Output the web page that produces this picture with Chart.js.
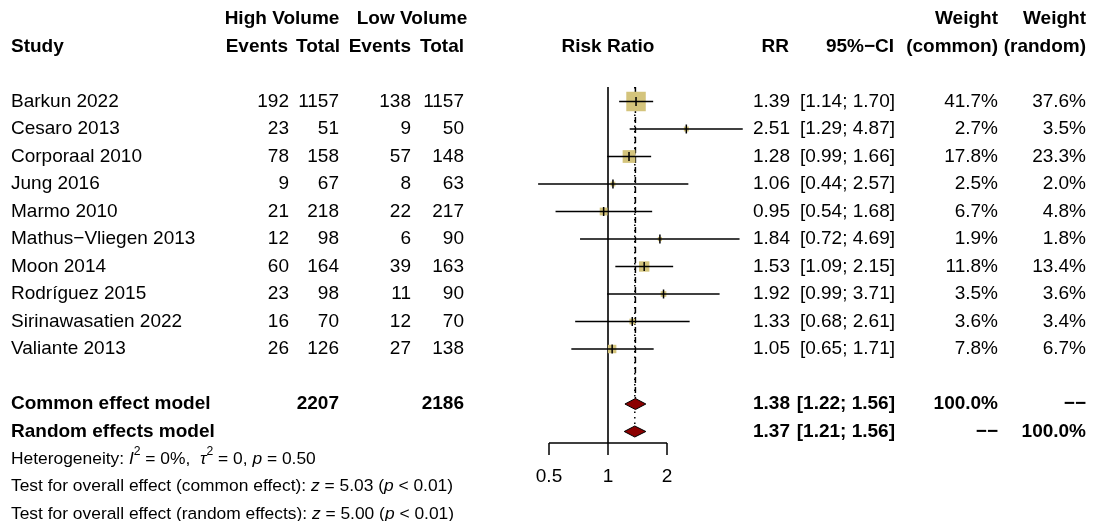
<!DOCTYPE html>
<html>
<head>
<meta charset="utf-8">
<script src="https://cdn.jsdelivr.net/npm/chart.js@4/dist/chart.umd.min.js"></script>
<style>
  html, body { margin: 0; padding: 0; background: #fff; }
  canvas { display: block; }
</style>
</head>
<body>
<canvas id="forest" width="1094" height="521"></canvas>
<script>
// study data
const studies = ['Barkun 2022', 'Cesaro 2013', 'Corporaal 2010', 'Jung 2016', 'Marmo 2010',
  'Mathus\u2212Vliegen 2013', 'Moon 2014', 'Rodríguez 2015', 'Sirinawasatien 2022', 'Valiante 2013'];
const hvEvents = [192, 23, 78, 9, 21, 12, 60, 23, 16, 26];
const hvTotal = [1157, 51, 158, 67, 218, 98, 164, 98, 70, 126];
const lvEvents = [138, 9, 57, 8, 22, 6, 39, 11, 12, 27];
const lvTotal = [1157, 50, 148, 63, 217, 90, 163, 90, 70, 138];
const rr = [1.39, 2.51, 1.28, 1.06, 0.95, 1.84, 1.53, 1.92, 1.33, 1.05];
const ciLow = [1.14, 1.29, 0.99, 0.44, 0.54, 0.72, 1.09, 0.99, 0.68, 0.65];
const ciHigh = [1.70, 4.87, 1.66, 2.57, 1.68, 4.69, 2.15, 3.71, 2.61, 1.71];
const wCommon = [41.7, 2.7, 17.8, 2.5, 6.7, 1.9, 11.8, 3.5, 3.6, 7.8];
const wRandom = [37.6, 3.5, 23.3, 2.0, 4.8, 1.8, 13.4, 3.6, 3.4, 6.7];

// pooled estimates
const models = ['Common effect model', 'Random effects model'];
const modelRR = [1.38, 1.37];
const modelLow = [1.22, 1.21];
const modelHigh = [1.56, 1.56];
const modelWCommon = ['100.0%', '\u2212\u2212'];
const modelWRandom = ['\u2212\u2212', '100.0%'];

// x axis
const tickValues = [0.5, 1, 2];
const tickLabels = ['0.5', '1', '2'];

const FONT = '"Liberation Sans", Arial, sans-serif';
const FS = 19;
const FS_SMALL = 17.4;
const ROW_H = 27.5;
const ROW0 = 101.5;
const H = 521;
const yMin = -ROW0 / ROW_H;
const yMax = yMin + H / ROW_H;
const modelRow = [11, 12];
const topRow = -0.53;
const axisRow = 12.42;

const squareFill = '#D4C47C';
const maxW = Math.max(...wCommon);

const datasets = [];

// estimate tick marks (drawn on top)
datasets.push({
  data: rr.map((v, i) => ({ x: v, y: i })),
  pointStyle: 'line',
  pointRotation: 90,
  pointRadius: 4.5,
  pointBorderColor: '#000',
  pointBorderWidth: 1.5,
  showLine: false,
  order: 0
});

// confidence intervals
studies.forEach((s, i) => {
  datasets.push({
    data: [{ x: ciLow[i], y: i }, { x: ciHigh[i], y: i }],
    showLine: true,
    borderColor: '#000',
    borderWidth: 1.6,
    pointRadius: 0,
    order: 1
  });
});

// weight squares
datasets.push({
  data: rr.map((v, i) => ({ x: v, y: i })),
  pointStyle: 'rect',
  pointRadius: wCommon.map(w => Math.sqrt(w / maxW) * 19.5 / Math.SQRT2),
  pointBackgroundColor: squareFill,
  pointBorderWidth: 0,
  showLine: false,
  order: 2
});

// diamonds
models.forEach((m, k) => {
  const r = modelRow[k];
  datasets.push({
    data: [
      { x: modelLow[k], y: r }, { x: modelRR[k], y: r - 0.2 },
      { x: modelHigh[k], y: r }, { x: modelRR[k], y: r + 0.2 },
      { x: modelLow[k], y: r }
    ],
    showLine: true,
    fill: 'shape',
    backgroundColor: '#8B0000',
    borderColor: '#000',
    borderWidth: 1,
    pointRadius: 0,
    tension: 0,
    order: 1
  });
});

// reference line at 1 and pooled lines
datasets.push({
  data: [{ x: 1, y: topRow }, { x: 1, y: axisRow }],
  showLine: true, borderColor: '#000', borderWidth: 1.6, pointRadius: 0, order: 3
});
datasets.push({
  data: [{ x: modelRR[0], y: topRow }, { x: modelRR[0], y: modelRow[0] - 0.2 }],
  showLine: true, borderColor: '#000', borderWidth: 1.5, borderDash: [6, 4], pointRadius: 0, order: 3
});
datasets.push({
  data: [{ x: modelRR[1], y: topRow }, { x: modelRR[1], y: modelRow[1] - 0.2 }],
  showLine: true, borderColor: '#000', borderWidth: 1.5, borderDash: [1.5, 4], pointRadius: 0, order: 3
});

function txt(ctx, s, x, y, align, bold, size) {
  ctx.font = (bold ? 'bold ' : '') + (size || FS) + 'px ' + FONT;
  ctx.textAlign = align;
  ctx.fillText(s, x, y);
}

function rich(ctx, parts, x, y, size) {
  ctx.textAlign = 'left';
  parts.forEach(p => {
    const sz = p.sup ? size * 0.7 : size;
    ctx.font = (p.it ? 'italic ' : '') + sz + 'px ' + FONT;
    ctx.fillText(p.t, x, p.sup ? y - size * 0.42 : y);
    x += ctx.measureText(p.t).width;
  });
}

const tablePlugin = {
  id: 'forestTable',
  afterDraw(chart) {
    const ctx = chart.ctx;
    const xs = chart.scales.x;
    const ys = chart.scales.y;
    const Y = r => ys.getPixelForValue(r);
    ctx.save();
    ctx.fillStyle = '#000';
    ctx.textBaseline = 'middle';

    // headers
    txt(ctx, 'High Volume', 282, Y(-3), 'center', true);
    txt(ctx, 'Low Volume', 412, Y(-3), 'center', true);
    txt(ctx, 'Weight', 998, Y(-3), 'right', true);
    txt(ctx, 'Weight', 1086, Y(-3), 'right', true);
    txt(ctx, 'Study', 11, Y(-2), 'left', true);
    txt(ctx, 'Events', 288, Y(-2), 'right', true);
    txt(ctx, 'Total', 340, Y(-2), 'right', true);
    txt(ctx, 'Events', 411, Y(-2), 'right', true);
    txt(ctx, 'Total', 464, Y(-2), 'right', true);
    txt(ctx, 'Risk Ratio', xs.getPixelForValue(1), Y(-2), 'center', true);
    txt(ctx, 'RR', 789, Y(-2), 'right', true);
    txt(ctx, '95%\u2212CI', 894, Y(-2), 'right', true);
    txt(ctx, '(common)', 998, Y(-2), 'right', true);
    txt(ctx, '(random)', 1086, Y(-2), 'right', true);

    // study rows
    studies.forEach((s, i) => {
      const y = Y(i);
      txt(ctx, s, 11, y, 'left');
      txt(ctx, String(hvEvents[i]), 289, y, 'right');
      txt(ctx, String(hvTotal[i]), 339, y, 'right');
      txt(ctx, String(lvEvents[i]), 411, y, 'right');
      txt(ctx, String(lvTotal[i]), 464, y, 'right');
      txt(ctx, rr[i].toFixed(2), 790, y, 'right');
      txt(ctx, '[' + ciLow[i].toFixed(2) + '; ' + ciHigh[i].toFixed(2) + ']', 895, y, 'right');
      txt(ctx, wCommon[i].toFixed(1) + '%', 998, y, 'right');
      txt(ctx, wRandom[i].toFixed(1) + '%', 1086, y, 'right');
    });

    // pooled rows
    const sumHv = hvTotal.reduce((a, b) => a + b, 0);
    const sumLv = lvTotal.reduce((a, b) => a + b, 0);
    models.forEach((m, k) => {
      const y = Y(modelRow[k]);
      txt(ctx, m, 11, y, 'left', true);
      if (k === 0) {
        txt(ctx, String(sumHv), 339, y, 'right', true);
        txt(ctx, String(sumLv), 464, y, 'right', true);
      }
      txt(ctx, modelRR[k].toFixed(2), 790, y, 'right', true);
      txt(ctx, '[' + modelLow[k].toFixed(2) + '; ' + modelHigh[k].toFixed(2) + ']', 895, y, 'right', true);
      txt(ctx, modelWCommon[k], 998, y, 'right', true);
      txt(ctx, modelWRandom[k], 1086, y, 'right', true);
    });

    // heterogeneity and tests
    rich(ctx, [
      { t: 'Heterogeneity: ' }, { t: 'I', it: true }, { t: '2', sup: true },
      { t: ' = 0%,  ' }, { t: '\u03c4', it: true }, { t: '2', sup: true },
      { t: ' = 0, ' }, { t: 'p', it: true }, { t: ' = 0.50' }
    ], 11, Y(13), FS_SMALL);
    rich(ctx, [
      { t: 'Test for overall effect (common effect): ' }, { t: 'z', it: true },
      { t: ' = 5.03 (' }, { t: 'p', it: true }, { t: ' < 0.01)' }
    ], 11, Y(14), FS_SMALL);
    rich(ctx, [
      { t: 'Test for overall effect (random effects): ' }, { t: 'z', it: true },
      { t: ' = 5.00 (' }, { t: 'p', it: true }, { t: ' < 0.01)' }
    ], 11, Y(15), FS_SMALL);

    // x axis
    const ay = Y(axisRow);
    ctx.strokeStyle = '#000';
    ctx.lineWidth = 1.5;
    ctx.beginPath();
    ctx.moveTo(xs.getPixelForValue(tickValues[0]), ay);
    ctx.lineTo(xs.getPixelForValue(tickValues[tickValues.length - 1]), ay);
    tickValues.forEach(v => {
      const px = xs.getPixelForValue(v);
      ctx.moveTo(px, ay);
      ctx.lineTo(px, ay + 12);
    });
    ctx.stroke();
    tickValues.forEach((v, i) => {
      txt(ctx, tickLabels[i], xs.getPixelForValue(v), ay + 34, 'center');
    });
    ctx.restore();
  }
};

new Chart(document.getElementById('forest').getContext('2d'), {
  type: 'scatter',
  data: { datasets },
  options: {
    responsive: false,
    animation: false,
    events: [],
    layout: { autoPadding: false, padding: { left: 490, right: 309, top: 0, bottom: 0 } },
    scales: {
      x: { type: 'logarithmic', min: 0.25, max: 8, display: false },
      y: { type: 'linear', reverse: true, min: yMin, max: yMax, display: false }
    },
    plugins: { legend: { display: false }, tooltip: { enabled: false } }
  },
  plugins: [tablePlugin]
});
</script>
</body>
</html>
